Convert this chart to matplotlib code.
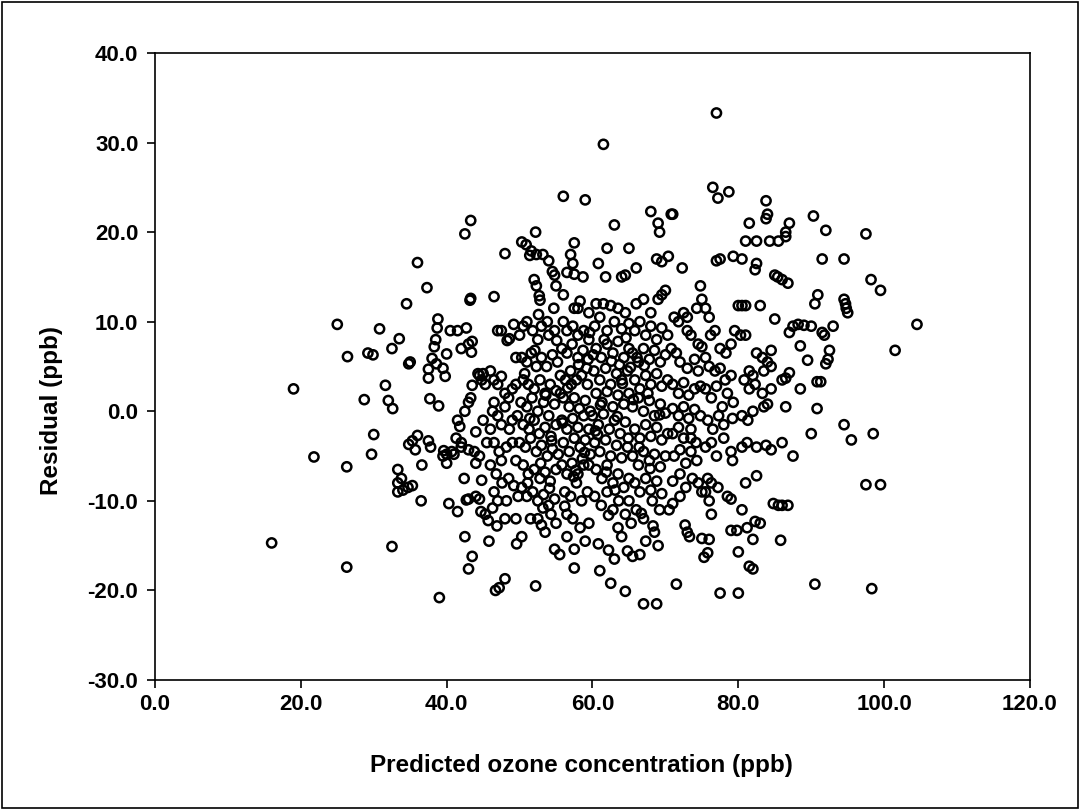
import numpy as np
import matplotlib.pyplot as plt
from matplotlib.ticker import FormatStrFormatter

# predicted ozone (ppb), residual (ppb), band by band
band_15_40_x = [16.0, 19.0, 21.8, 25.0, 26.4, 26.3, 26.3, 28.7, 29.2, 29.9, 29.7, 30.0,
                30.8, 31.6, 32.0, 32.6, 32.5, 32.5, 33.5, 33.3, 33.3, 33.3, 33.8, 34.0,
                34.5, 34.8, 35.0, 34.8, 35.3, 34.7, 35.3, 36.0, 35.7, 36.0, 36.5, 36.6,
                37.3, 37.5, 37.5, 38.0, 37.5, 37.7, 37.8, 38.3, 38.5, 38.7, 38.8, 38.6,
                39.0, 38.9, 39.5, 39.8, 39.5, 39.6, 40.0, 40.5, 40.0, 40.3, 40.0]
band_15_40_y = [-14.7, 2.5, -5.1, 9.7, 6.1, -6.2, -17.4, 1.3, 6.5, 6.3, -4.8, -2.6,
                9.2, 2.9, 1.2, 0.3, -15.1, 7.0, 8.1, -6.5, -8.0, -9.0, -7.5, -8.8,
                12.0, 5.3, 5.5, -3.7, -3.3, -8.5, -8.3, 16.6, -4.3, -2.7, -10.0, -6.0,
                13.8, 3.7, 4.7, 5.9, -3.3, 1.4, -4.0, 7.2, 8.0, 9.3, 10.3, 5.3,
                -20.8, 0.6, 4.8, 3.9, -5.0, -4.4, 6.4, 9.0, -5.8, -10.3, -4.8]

band_40_45_x = [42.5, 43.3, 43.2, 43.3, 41.5, 42.0, 42.7, 43.5, 43.4, 43.0, 44.3, 44.8,
                44.5, 45.0, 45.3, 43.5, 43.3, 43.0, 42.5, 41.5, 41.8, 41.3, 42.0, 42.0,
                40.7, 41.0, 43.0, 43.8, 44.5, 44.0, 44.8, 42.4, 43.0, 42.7, 44.0, 44.5,
                44.7, 45.3, 45.7, 46.3, 42.5, 43.0, 43.5, 41.5, 45.0, 44.0, 45.5]
band_40_45_y = [19.8, 21.3, 12.4, 12.6, 9.0, 7.0, 9.3, 7.8, 6.6, 7.5, 4.2, 3.5,
                4.0, 4.2, 3.0, 2.9, 1.5, 1.0, 0.0, -1.0, -1.7, -3.0, -4.0, -3.5,
                -4.5, -4.8, -4.3, -4.5, -5.0, -5.8, -7.7, -7.5, -9.8, -9.9, -9.5, -9.8,
                -11.2, -11.5, -12.2, -10.8, -14.0, -17.6, -16.2, -11.2, -1.0, -2.3, -3.5]

band_45_50_x = [46.5, 47.0, 47.5, 48.0, 48.3, 49.2, 48.6, 49.5, 46.0, 46.5, 47.0, 47.5,
                48.0, 48.5, 49.0, 49.5, 46.5, 46.3, 47.0, 47.5, 48.0, 48.6, 49.0, 49.7,
                46.0, 46.5, 47.2, 48.2, 49.0, 49.5, 46.0, 46.8, 47.6, 48.5, 49.2, 49.8,
                46.5, 47.0, 48.2, 48.0, 49.5, 46.7, 47.2, 48.0, 49.6, 50.3, 46.9, 45.8,
                47.5]
band_45_50_y = [12.8, 9.0, 9.0, 17.6, 7.9, 9.7, 8.1, 6.0, 4.5, 3.5, 3.0, 3.9,
                2.0, 1.5, 2.5, 3.0, 1.0, 0.0, -0.5, -1.5, 0.5, -2.0, -1.0, -0.5,
                -2.0, -3.5, -4.5, -4.0, -3.5, -5.5, -6.0, -7.0, -8.0, -7.5, -8.3, -9.5,
                -9.0, -10.0, -10.0, -12.0, -12.0, -20.0, -19.7, -18.7, -14.8, -14.0, -12.8, -14.5,
                -5.5]

band_50_55_x = [50.3, 50.9, 51.6, 51.4, 52.2, 52.3, 53.2, 54.0, 52.0, 52.3, 52.7, 52.8,
                54.5, 54.8, 55.0, 53.8, 50.0, 50.5, 51.0, 51.8, 52.5, 53.0, 54.0, 54.8,
                50.3, 51.0, 51.6, 52.3, 53.0, 53.7, 54.5, 55.2, 50.5, 51.2, 52.0, 52.8,
                53.5, 54.2, 55.0, 50.2, 51.0, 51.7, 52.5, 53.3, 54.0, 54.8, 50.5, 51.3,
                52.0, 52.7, 53.5, 54.3, 55.0, 50.0, 50.8, 51.5, 52.3, 53.0, 53.8, 54.5,
                55.3, 50.5, 51.2, 52.0, 52.8, 53.5, 54.2, 55.0, 50.3, 51.0, 51.8, 52.5,
                53.3, 54.0, 54.8, 51.5, 52.5, 53.0, 54.3, 55.0, 52.2, 54.8, 55.5, 53.5]
band_50_55_y = [18.9, 18.6, 17.9, 17.4, 20.0, 17.5, 17.5, 16.8, 14.7, 14.0, 12.9, 12.4,
                15.6, 15.2, 14.0, 10.0, 8.5, 9.5, 10.0, 9.0, 8.0, 9.5, 8.5, 9.0,
                6.0, 5.5, 6.5, 5.0, 6.0, 5.0, 6.3, 5.5, 3.5, 3.0, 2.5, 3.5,
                2.0, 3.0, 2.3, 1.0, 0.5, 1.5, 0.0, 1.0, -0.5, 0.8, -1.5, -2.0,
                -1.0, -2.5, -1.8, -2.8, -1.5, -3.5, -4.0, -3.0, -4.5, -3.8, -5.0, -4.2,
                -4.8, -6.0, -7.0, -6.5, -7.5, -6.8, -7.8, -6.5, -8.5, -9.5, -9.0, -10.0,
                -9.3, -10.5, -9.8, -12.0, -12.0, -12.7, -11.5, -12.5, -19.5, -15.4, -16.0, -13.5]

band_55_60_x = [56.0, 57.0, 57.5, 57.3, 59.0, 56.5, 57.5, 58.7, 56.0, 57.5, 58.0, 58.3,
                59.5, 56.0, 56.5, 57.3, 58.0, 58.8, 59.5, 55.8, 56.5, 57.2, 58.0, 58.7,
                59.4, 55.6, 56.3, 57.0, 57.8, 58.5, 59.3, 56.0, 56.8, 57.5, 58.2, 59.0,
                59.7, 55.8, 56.5, 57.3, 58.0, 58.8, 59.5, 56.0, 56.8, 57.5, 58.3, 59.0,
                59.7, 55.8, 56.5, 57.2, 58.0, 58.8, 59.5, 56.2, 57.0, 57.8, 58.5, 59.3,
                56.5, 57.3, 58.3, 59.5, 57.5, 57.5, 56.5, 59.0]
band_55_60_y = [24.0, 17.5, 18.8, 16.5, 23.6, 15.5, 15.3, 15.0, 13.0, 11.5, 11.5, 12.3,
                11.0, 10.0, 9.0, 9.5, 8.5, 9.0, 8.0, 7.0, 6.5, 7.5, 6.0, 6.8,
                5.8, 4.0, 3.5, 4.5, 3.5, 4.0, 3.0, 1.5, 0.5, 1.5, 0.3, 1.2,
                0.0, -1.0, -2.0, -0.8, -1.8, -0.5, -2.0, -3.5, -4.5, -3.0, -4.0, -3.2,
                -4.8, -6.0, -7.0, -5.8, -7.0, -6.0, -6.0, -9.0, -9.5, -8.0, -10.0, -9.0,
                -11.5, -12.0, -13.0, -12.5, -15.4, -17.5, -14.0, -14.5]

band_60_65_x = [61.5, 62.0, 63.0, 60.8, 61.8, 64.5, 65.0, 64.0, 60.5, 61.5, 62.5, 63.5,
                64.5, 60.3, 61.0, 62.0, 63.0, 64.0, 65.0, 60.5, 61.2, 62.0, 62.8, 63.5,
                64.3, 65.0, 60.2, 61.0, 61.8, 62.5, 63.3, 64.0, 64.8, 60.5, 61.3, 62.0,
                62.8, 63.5, 64.3, 65.0, 60.0, 60.8, 61.5, 62.3, 63.0, 63.8, 64.5, 60.3,
                61.0, 61.8, 62.5, 63.3, 64.0, 64.8, 60.5, 61.3, 62.0, 62.8, 63.5, 64.3,
                65.0, 60.3, 61.2, 62.0, 62.8, 63.6, 64.5, 65.0, 60.8, 61.0, 62.2, 62.5,
                63.0, 64.5, 64.8, 65.5, 63.5, 65.3, 64.0]
band_60_65_y = [29.8, 18.2, 20.8, 16.5, 15.0, 15.2, 18.2, 15.0, 12.0, 12.0, 11.8, 11.5,
                11.0, 9.5, 10.5, 9.0, 10.0, 9.2, 9.8, 7.0, 6.0, 7.5, 6.5, 7.8,
                6.0, 7.0, 4.5, 3.5, 4.8, 3.0, 4.2, 3.5, 4.5, 2.0, 1.0, 2.2,
                0.5, 1.8, 0.8, 2.0, -0.5, -1.5, -0.3, -2.0, -1.0, -2.5, -1.2, -3.5,
                -4.5, -3.2, -5.0, -3.8, -5.2, -4.0, -6.5, -7.5, -6.0, -8.0, -7.0, -8.5,
                -7.5, -9.5, -10.5, -9.0, -11.0, -10.0, -11.5, -10.0, -14.8, -17.8, -15.5, -19.2,
                -16.5, -20.1, -15.6, -16.2, -13.0, -12.5, -14.0]

band_65_70_x = [68.0, 69.0, 69.2, 70.8, 66.0, 68.8, 69.5, 70.4, 66.0, 67.0, 68.0, 69.0,
                70.0, 69.5, 65.8, 66.5, 67.3, 68.0, 68.8, 69.5, 70.3, 65.5, 66.3, 67.0,
                67.8, 68.5, 69.3, 70.0, 65.8, 66.5, 67.3, 68.0, 68.8, 69.5, 70.3, 65.5,
                66.3, 67.0, 67.8, 68.5, 69.3, 70.0, 65.8, 66.5, 67.3, 68.0, 68.8, 69.5,
                70.3, 65.5, 66.3, 67.0, 67.8, 68.5, 69.3, 70.0, 65.8, 66.5, 67.3, 68.0,
                68.8, 69.5, 66.0, 67.0, 68.3, 68.5, 69.0, 67.3, 67.0, 68.8, 66.5, 69.2,
                70.5, 71.0]
band_65_70_y = [22.3, 21.0, 20.0, 22.0, 16.0, 17.0, 16.7, 17.3, 12.0, 12.5, 11.0, 12.5,
                13.5, 13.0, 9.0, 10.0, 8.5, 9.5, 8.0, 9.3, 8.5, 6.5, 5.5, 7.0,
                5.8, 6.8, 5.5, 6.3, 3.5, 2.5, 4.0, 3.0, 4.2, 2.8, 3.5, 0.5,
                1.5, 0.0, 1.2, -0.5, 0.8, -0.2, -2.0, -3.0, -1.5, -2.8, -1.8, -3.2,
                -2.5, -5.0, -6.0, -4.5, -5.5, -4.8, -6.2, -5.0, -8.0, -9.0, -7.5, -8.8,
                -7.8, -9.2, -11.0, -12.0, -12.8, -13.5, -15.0, -14.5, -21.5, -21.5, -16.0, -11.0,
                -11.0, -10.3]

band_70_75_x = [71.0, 72.3, 71.2, 71.8, 72.5, 73.0, 74.3, 74.8, 75.0, 73.0, 73.5, 74.5,
                75.0, 70.8, 71.5, 72.0, 73.0, 74.0, 74.5, 71.0, 71.8, 72.5, 73.2, 74.0,
                74.8, 71.0, 71.8, 72.5, 73.2, 74.0, 74.8, 71.0, 71.8, 72.5, 73.5, 74.2,
                71.2, 72.0, 72.8, 73.5, 74.3, 71.0, 72.0, 72.8, 73.7, 74.5, 75.0, 72.0,
                72.7, 73.3, 73.0, 71.5, 75.0, 75.8, 75.3, 73.5]
band_70_75_y = [22.0, 16.0, 10.5, 10.0, 11.0, 10.5, 11.5, 14.0, 12.5, 9.0, 8.5, 7.5,
                7.2, 7.0, 6.5, 5.5, 4.8, 5.8, 4.5, 3.0, 2.0, 3.2, 1.8, 2.5,
                2.8, 0.3, -0.5, 0.5, -0.8, 0.2, -0.5, -2.5, -1.8, -3.0, -2.0, -3.5,
                -5.0, -4.3, -5.8, -4.5, -5.5, -7.8, -7.0, -8.5, -7.5, -8.0, -9.0, -9.5,
                -12.7, -14.0, -13.5, -19.3, -14.2, -15.8, -16.3, -3.0]

band_75_80_x = [77.0, 76.5, 77.2, 78.7, 77.0, 77.5, 79.3, 76.0, 75.5, 76.2, 76.8, 77.5,
                78.3, 79.0, 79.5, 80.0, 75.5, 76.0, 76.8, 77.5, 78.2, 79.0, 75.5, 76.3,
                77.0, 77.8, 78.5, 79.3, 75.8, 76.5, 77.3, 78.0, 79.2, 75.5, 76.3, 77.0,
                78.0, 79.0, 75.8, 76.3, 77.2, 75.5, 76.0, 78.5, 79.0, 79.2, 79.0, 79.8,
                80.0, 80.0, 77.5, 76.3, 76.0]
band_75_80_y = [33.3, 25.0, 23.8, 24.5, 16.8, 17.0, 17.3, 10.5, 11.5, 8.5, 9.0, 7.0,
                6.5, 7.5, 9.0, 11.8, 6.0, 5.0, 4.5, 4.8, 3.5, 4.0, 2.5, 1.5,
                2.8, 0.5, 2.0, 1.0, -1.0, -2.0, -0.5, -1.5, -0.8, -4.0, -3.5, -5.0,
                -3.0, -4.5, -7.5, -8.0, -8.5, -9.0, -10.0, -9.5, -9.8, -5.5, -13.3, -13.3,
                -15.7, -20.3, -20.3, -11.5, -14.3]

band_80_85_x = [81.5, 82.5, 83.8, 84.0, 83.8, 84.3, 85.5, 81.0, 82.5, 82.3, 80.5, 85.0,
                85.4, 86.0, 80.5, 81.0, 83.0, 80.3, 81.0, 82.5, 83.3, 84.5, 85.0, 81.5,
                82.0, 83.5, 84.0, 84.5, 80.8, 81.5, 82.3, 83.3, 84.5, 80.5, 81.3, 82.0,
                83.5, 84.0, 80.5, 81.2, 82.5, 83.8, 84.5, 81.0, 82.5, 80.5, 81.2, 82.3,
                83.0, 84.8, 85.5, 81.5, 82.0, 82.0]
band_80_85_y = [21.0, 19.0, 23.5, 22.0, 21.5, 19.0, 19.0, 19.0, 16.5, 15.8, 17.0, 15.2,
                15.0, 14.7, 11.8, 11.8, 11.8, 8.5, 8.5, 6.5, 6.0, 6.8, 10.3, 4.5,
                4.0, 4.5, 5.5, 5.0, 3.5, 2.5, 3.0, 2.0, 2.5, -0.5, -1.0, 0.0,
                0.5, 0.8, -4.0, -3.5, -4.0, -3.8, -4.3, -8.0, -7.2, -11.0, -13.0, -12.3,
                -12.5, -10.3, -10.5, -17.3, -17.6, -14.3]

band_85_105_x = [86.5, 87.0, 86.5, 86.8, 87.5, 88.2, 87.0, 88.5, 89.0, 90.0, 90.5, 90.9,
                 91.5, 91.8, 92.5, 92.3, 92.0, 91.3, 90.8, 89.5, 90.3, 91.5, 92.0, 93.0,
                 94.5, 94.5, 94.8, 94.7, 95.0, 97.5, 98.2, 99.5, 101.5, 104.5, 86.5, 86.0,
                 87.0, 88.5, 86.5, 90.8, 86.0, 87.5, 90.0, 94.5, 95.5, 98.5, 86.8, 85.8,
                 90.5, 97.5, 98.3, 99.5, 86.0]
band_85_105_y = [20.0, 21.0, 19.5, 14.3, 9.5, 9.7, 8.8, 7.3, 9.6, 9.5, 12.0, 13.0,
                 8.8, 8.5, 6.8, 5.8, 5.3, 3.3, 3.3, 5.7, 21.8, 17.0, 20.2, 9.5,
                 17.0, 12.5, 11.5, 12.0, 11.0, 19.8, 14.7, 13.5, 6.8, 9.7, 3.7, 3.5,
                 4.3, 2.5, 0.5, 0.3, -3.5, -5.0, -2.5, -1.5, -3.2, -2.5, -10.5, -14.4,
                 -19.3, -8.2, -19.8, -8.2, -10.5]

# extra overlapping points in the crowded middle of the cloud
core_x = [50.7, 51.4, 52.1, 52.9, 53.6, 54.4, 55.1, 55.9, 56.6, 57.4, 58.1, 58.9,
          59.6, 60.4, 61.1, 61.9, 62.6, 63.4, 64.1, 64.9, 65.6, 66.4, 67.1, 67.9,
          51.1, 52.6, 54.1, 55.6, 57.1, 58.6, 60.1, 61.6, 63.1, 64.6, 66.1, 67.6,
          53.2, 56.2, 59.2, 62.2, 65.2, 68.2, 54.7, 57.7, 60.7, 63.7, 66.7, 69.2]
core_y = [4.2, -0.8, 6.8, -5.8, 1.8, -3.3, 7.9, -1.3, 2.6, -7.3, 5.2, -4.6,
          8.8, -2.2, 0.7, -6.8, 5.6, -0.6, 3.1, -3.0, 1.3, -4.0, 5.1, -6.4,
          -8.0, 10.8, -8.6, 2.0, 3.0, -5.3, 6.3, 8.0, -8.8, 8.2, 6.0, 2.0,
          -10.8, -10.6, 4.8, -11.6, 4.9, -10.0, 11.5, -6.6, -2.6, 5.2, -11.4, -0.4]

pred = np.concatenate([band_15_40_x, band_40_45_x, band_45_50_x, band_50_55_x,
                       band_55_60_x, band_60_65_x, band_65_70_x, band_70_75_x,
                       band_75_80_x, band_80_85_x, band_85_105_x, core_x])
resid = np.concatenate([band_15_40_y, band_40_45_y, band_45_50_y, band_50_55_y,
                        band_55_60_y, band_60_65_y, band_65_70_y, band_70_75_y,
                        band_75_80_y, band_80_85_y, band_85_105_y, core_y])

plt.rcParams['font.family'] = ['Liberation Sans', 'DejaVu Sans']

fig = plt.figure(figsize=(10.8, 8.1), dpi=100)
ax = fig.add_axes([0.1435, 0.1605, 0.8102, 0.7741])

ax.scatter(pred, resid, s=44, facecolors='none', edgecolors='black', linewidths=1.8)

ax.set_xlim(0, 120)
ax.set_ylim(-30, 40)
ax.set_xticks(np.arange(0, 121, 20))
ax.set_yticks(np.arange(-30, 41, 10))
ax.xaxis.set_major_formatter(FormatStrFormatter('%.1f'))
ax.yaxis.set_major_formatter(FormatStrFormatter('%.1f'))
ax.tick_params(direction='out', length=6, width=1.2, labelsize=16)
ax.tick_params(axis='x', pad=4)
ax.tick_params(axis='y', pad=6)
for lab in ax.get_xticklabels() + ax.get_yticklabels():
    lab.set_fontweight('bold')
for sp in ax.spines.values():
    sp.set_linewidth(1.2)

ax.set_xlabel('Predicted ozone concentration (ppb)', fontsize=17.5, fontweight='bold')
ax.xaxis.set_label_coords(0.487, -0.118)
ax.set_ylabel('Residual (ppb)', fontsize=17.5, fontweight='bold')
ax.yaxis.set_label_coords(-0.105, 0.43)

# thin frame round the whole picture
fig.patches.append(plt.Rectangle((0.002, 0.002), 0.996, 0.996, transform=fig.transFigure,
                                 fill=False, edgecolor='black', linewidth=1.2))

fig.savefig('out.png', dpi=100)
